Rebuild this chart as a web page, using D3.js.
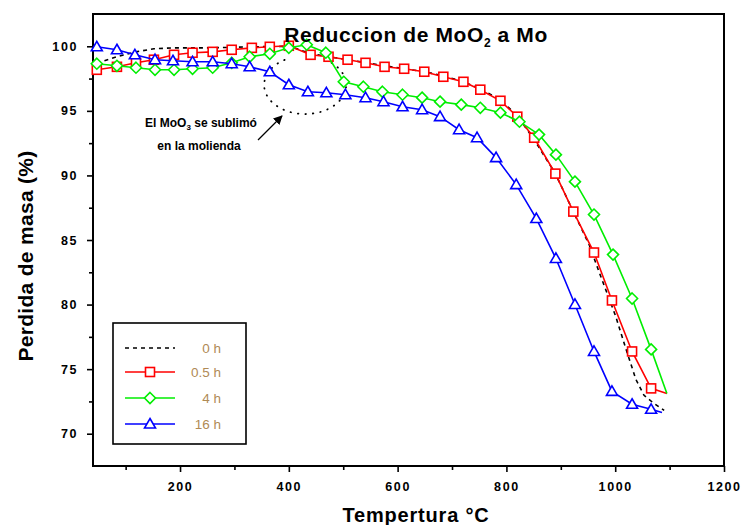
<!DOCTYPE html>
<html>
<head>
<meta charset="utf-8">
<script src="https://cdn.jsdelivr.net/npm/d3@7"></script>
<style>
  body { margin: 0; background: #fff; }
  text { font-family: "Liberation Sans", Arial, sans-serif; }
</style>
</head>
<body>
<svg id="chart" width="744" height="525"></svg>
<script>
// Temperature (°C) and remaining mass (%) for each milling time
const temp0h = [47, 84, 119, 152, 189, 260, 332, 402, 440, 508, 576, 649, 684, 721, 752, 789, 820, 851, 890, 923, 952, 970, 1001, 1020, 1038, 1053, 1071, 1090];
const mass0h = [98.7, 99.19, 99.57, 99.81, 99.88, 99.88, 99.96, 100.0, 99.42, 98.96, 98.49, 98.03, 97.72, 97.25, 96.71, 95.86, 94.62, 92.77, 90.14, 87.2, 84.65, 82.56, 79.08, 76.53, 74.21, 72.97, 72.35, 71.81];

const temp05h = [47, 84, 119, 152, 189, 223, 260, 295, 332, 365, 400, 440, 473, 508, 541, 576, 612, 649, 684, 721, 752, 789, 820, 851, 890, 923, 961, 994, 1031, 1066, 1095];
const mass05h = [98.18, 98.41, 98.72, 98.96, 99.34, 99.5, 99.57, 99.73, 99.88, 99.96, 100.04, 99.34, 99.19, 98.96, 98.72, 98.41, 98.26, 98.03, 97.64, 97.25, 96.64, 95.78, 94.55, 92.92, 90.14, 87.2, 84.03, 80.32, 76.37, 73.51, 73.12];

const temp4h = [47, 84, 119, 154, 189, 223, 260, 295, 328, 365, 400, 433, 468, 501, 537, 572, 609, 645, 678, 717, 752, 789, 824, 860, 891, 926, 961, 996, 1031, 1066, 1095];
const mass4h = [98.65, 98.49, 98.34, 98.18, 98.18, 98.26, 98.34, 98.72, 99.19, 99.42, 99.88, 100.12, 99.5, 97.25, 96.87, 96.48, 96.25, 96.02, 95.71, 95.48, 95.24, 94.86, 94.16, 93.16, 91.61, 89.52, 86.97, 83.87, 80.47, 76.53, 73.12];

const temp16h = [47, 84, 117, 154, 187, 223, 260, 295, 328, 365, 400, 435, 469, 504, 541, 574, 609, 645, 678, 713, 746, 781, 818, 855, 891, 926, 961, 994, 1031, 1066, 1086];
const mass16h = [99.96, 99.73, 99.34, 98.96, 98.88, 98.8, 98.8, 98.65, 98.41, 98.03, 97.02, 96.48, 96.4, 96.25, 96.02, 95.71, 95.32, 95.09, 94.55, 93.54, 92.92, 91.38, 89.29, 86.66, 83.57, 80.01, 76.37, 73.28, 72.28, 71.89, 71.65];

const seriesNames = ["0 h", "0.5 h", "4 h", "16 h"];
const xMajorTicks = [200, 400, 600, 800, 1000, 1200];
const xMinorTicks = [100, 300, 500, 700, 900, 1100];
const yMajorTicks = [70, 75, 80, 85, 90, 95, 100];
const yMinorTicks = [72.5, 77.5, 82.5, 87.5, 92.5, 97.5];

const series = [
  { name: seriesNames[0], t: temp0h,  m: mass0h,  color: "#000000", dash: "4,4", marker: null },
  { name: seriesNames[1], t: temp05h, m: mass05h, color: "#ff0000", dash: null,  marker: "square" },
  { name: seriesNames[2], t: temp4h,  m: mass4h,  color: "#00ee00", dash: null,  marker: "diamond" },
  { name: seriesNames[3], t: temp16h, m: mass16h, color: "#0000ff", dash: null,  marker: "triangle" }
];

const svg = d3.select("#chart");
const L = 93, R = 724, T = 14, B = 466;

const x = d3.scaleLinear().domain([40, 1200]).range([L, R]);
const y = d3.scaleLinear().domain([67.5, 102.5]).range([B, T]);

const tickFont = "bold 12.5px 'Liberation Sans', Arial, sans-serif";

// Axes: major ticks with labels, minor ticks without
function styleAxis(g) {
  g.select(".domain").remove();
  g.selectAll(".tick line").attr("stroke", "#000").attr("stroke-width", 1.6);
  g.selectAll(".tick text").attr("fill", "#000").style("font", tickFont).style("letter-spacing", "1.6px");
}
svg.append("g").attr("transform", `translate(0,${B})`)
  .call(d3.axisBottom(x).tickValues(xMajorTicks).tickSize(6).tickPadding(10).tickFormat(d3.format("d")))
  .call(styleAxis);
svg.append("g").attr("transform", `translate(0,${B})`)
  .call(d3.axisBottom(x).tickValues(xMinorTicks).tickSize(4).tickFormat(""))
  .call(styleAxis);
svg.append("g").attr("transform", `translate(${L},0)`)
  .call(d3.axisLeft(y).tickValues(yMajorTicks).tickSize(6).tickPadding(9).tickFormat(d3.format("d")))
  .call(styleAxis);
svg.append("g").attr("transform", `translate(${L},0)`)
  .call(d3.axisLeft(y).tickValues(yMinorTicks).tickSize(4).tickFormat(""))
  .call(styleAxis);

// Plot frame
svg.append("rect")
  .attr("x", L).attr("y", T).attr("width", R - L).attr("height", B - T)
  .attr("fill", "none").attr("stroke", "#000").attr("stroke-width", 2);

// Dotted ellipse around the sublimation step
const ell = { cx: x(430), cy: y(97.0), rx: 41, ry: 29 };
const arcPts = d3.range(-50, 245, 2).map(a => {
  const r = a * Math.PI / 180;
  return [ell.cx + ell.rx * Math.cos(r), ell.cy + ell.ry * Math.sin(r)];
});
svg.append("path")
  .attr("d", d3.line()(arcPts))
  .attr("fill", "none").attr("stroke", "#000").attr("stroke-width", 1.8)
  .attr("stroke-linecap", "round").attr("stroke-dasharray", "0.5,7");

// Annotation text and arrow
const ann = svg.append("text").attr("text-anchor", "middle")
  .style("font", "bold 12px 'Liberation Sans', Arial, sans-serif").attr("fill", "#000");
const l1 = ann.append("tspan").attr("x", 201).attr("y", 127);
l1.append("tspan").text("El MoO");
l1.append("tspan").attr("dy", 3).style("font-size", "8px").text("3");
l1.append("tspan").attr("dy", -3).text(" se sublimó");
ann.append("tspan").attr("x", 199).attr("y", 150).text("en la molienda");

svg.append("defs").append("marker")
  .attr("id", "arrowhead").attr("viewBox", "0 0 10 10").attr("refX", 9).attr("refY", 5)
  .attr("markerWidth", 7).attr("markerHeight", 7).attr("orient", "auto")
  .append("path").attr("d", "M0,0 L10,5 L0,10 z").attr("fill", "#000");
svg.append("line")
  .attr("x1", 258).attr("y1", 140).attr("x2", 282).attr("y2", 116)
  .attr("stroke", "#000").attr("stroke-width", 1.3).attr("marker-end", "url(#arrowhead)");

// Marker shapes
function drawMarker(g, type, cx, cy, color) {
  if (type === "square") {
    g.append("rect").attr("x", cx - 4.5).attr("y", cy - 4.5).attr("width", 9).attr("height", 9)
      .attr("fill", "#fff").attr("stroke", color).attr("stroke-width", 1.6);
  } else if (type === "diamond") {
    g.append("path").attr("d", `M${cx},${cy - 5.5}L${cx + 5.5},${cy}L${cx},${cy + 5.5}L${cx - 5.5},${cy}Z`)
      .attr("fill", "#fff").attr("stroke", color).attr("stroke-width", 1.6);
  } else if (type === "triangle") {
    g.append("path").attr("d", `M${cx},${cy - 5.5}L${cx + 5.5},${cy + 4}L${cx - 5.5},${cy + 4}Z`)
      .attr("fill", "#fff").attr("stroke", color).attr("stroke-width", 1.6);
  }
}

const line = d3.line().x(d => x(d[0])).y(d => y(d[1]));
series.forEach(s => {
  const pts = s.t.map((t, i) => [t, s.m[i]]);
  const g = svg.append("g");
  g.append("path").attr("d", line(pts)).attr("fill", "none")
    .attr("stroke", s.color).attr("stroke-width", 1.6)
    .attr("stroke-dasharray", s.dash);
  if (s.marker) {
    pts.slice(0, -1).forEach(p => drawMarker(g, s.marker, x(p[0]), y(p[1]), s.color));
  }
});

// Title
const title = svg.append("text").attr("x", 416).attr("y", 42).attr("text-anchor", "middle")
  .style("font", "bold 21px 'Liberation Sans', Arial, sans-serif").style("letter-spacing", "0.6px").attr("fill", "#000");
title.append("tspan").text("Reduccion de MoO");
title.append("tspan").attr("dy", 5).style("font-size", "12px").text("2");
title.append("tspan").attr("dy", -5).text(" a Mo");

// Axis titles
svg.append("text").attr("x", 416).attr("y", 522).attr("text-anchor", "middle")
  .style("font", "bold 20px 'Liberation Sans', Arial, sans-serif").style("letter-spacing", "0.8px").text("Tempertura °C");
svg.append("text").attr("transform", "translate(33,256) rotate(-90)").attr("text-anchor", "middle")
  .style("font", "bold 21px 'Liberation Sans', Arial, sans-serif").style("letter-spacing", "0.3px").text("Perdida de masa (%)");

// Legend
const lg = svg.append("g");
lg.append("rect").attr("x", 113).attr("y", 323).attr("width", 133).attr("height", 121)
  .attr("fill", "#fff").attr("stroke", "#000").attr("stroke-width", 1.6);
const rowY = [348, 372, 398, 424];
series.forEach((s, i) => {
  lg.append("line").attr("x1", 125).attr("x2", 175).attr("y1", rowY[i]).attr("y2", rowY[i])
    .attr("stroke", s.color).attr("stroke-width", 1.6).attr("stroke-dasharray", s.dash);
  if (s.marker) drawMarker(lg, s.marker, 150, rowY[i], s.color);
  lg.append("text").attr("x", 221).attr("y", rowY[i] + 5).attr("text-anchor", "end")
    .style("font", "13.5px 'Liberation Sans', Arial, sans-serif").attr("fill", "#b08a55")
    .text(s.name);
});
</script>
</body>
</html>
